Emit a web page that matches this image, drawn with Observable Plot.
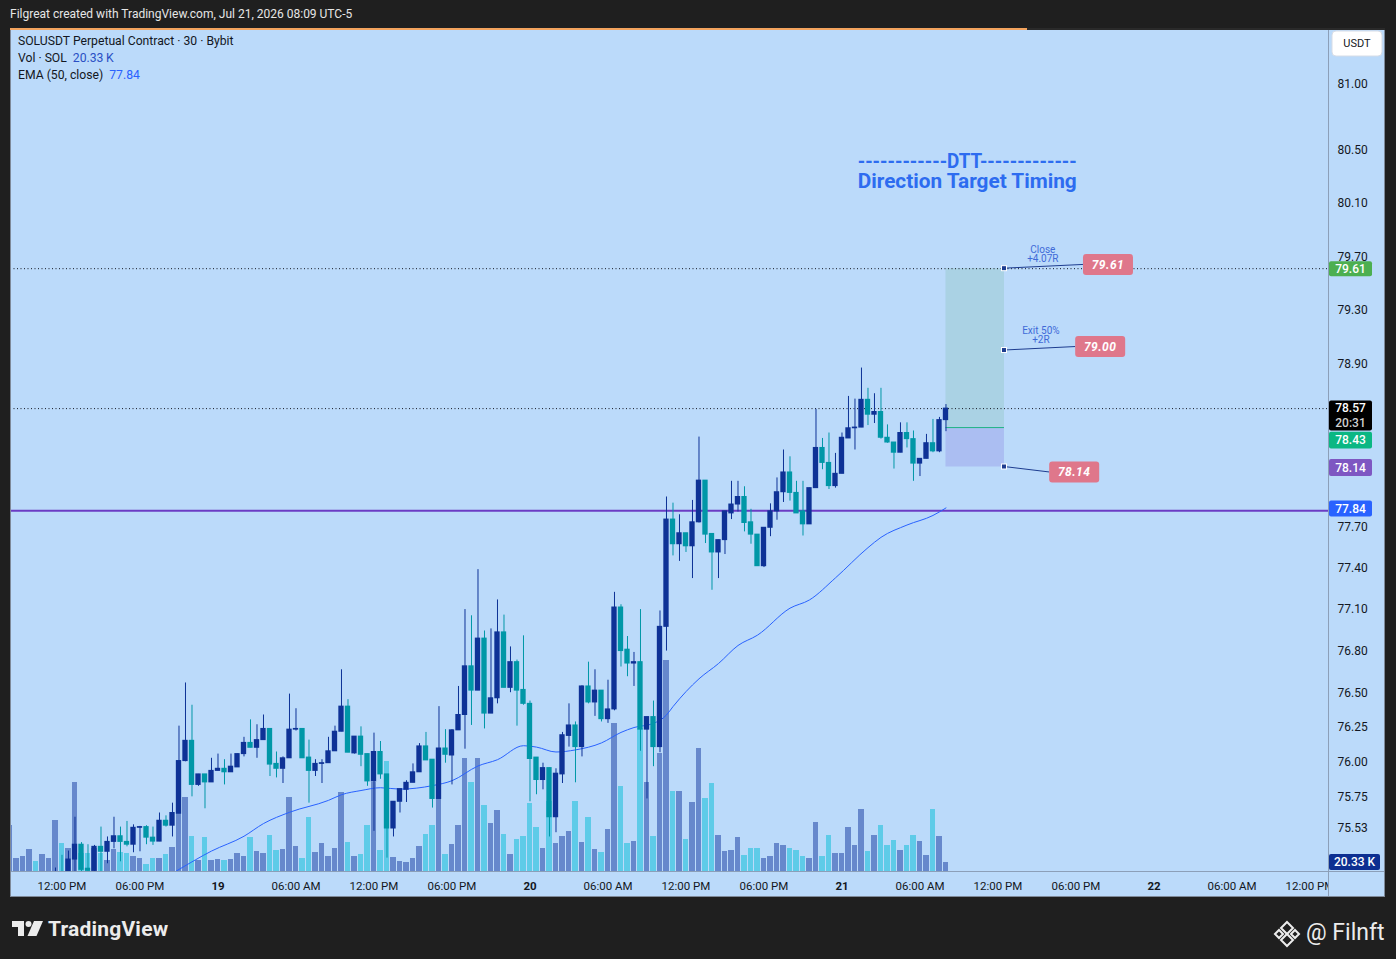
<!DOCTYPE html>
<html>
<head>
<meta charset="utf-8">
<script src="https://cdn.jsdelivr.net/npm/d3@7"></script>
<script src="https://cdn.jsdelivr.net/npm/@observablehq/plot@0.6"></script>
<style>
  html,body{margin:0;padding:0;}
  body{width:1396px;height:959px;background:#1f1f1f;overflow:hidden;position:relative;font-family:Roboto,"Noto Sans",sans-serif;}
  #hdr{position:absolute;left:10px;top:6px;font-size:12px;line-height:16px;color:#e6e6e6;white-space:nowrap;}
  #panel{position:absolute;left:10px;top:29px;width:1375px;height:868px;background:#bbdafa;overflow:hidden;}
  #panel svg{position:absolute;left:0;top:0;}
  #topbar{position:absolute;left:10px;top:28px;width:1017px;height:2px;background:#f2a35e;}
  #topbar2{position:absolute;left:1027px;top:28px;width:358px;height:2px;background:#2a2a2a;}
  #legend{position:absolute;left:18px;top:33px;font-size:12.2px;line-height:16.8px;color:#131722;white-space:nowrap;}
  #legend .v1{color:#2a4fc4;margin-left:6px;}
  #legend .v2{color:#2962ff;margin-left:6px;}
  #tvlogo{position:absolute;left:12px;top:921px;}
  #tvtext{position:absolute;left:48px;top:916px;font-size:21px;line-height:26px;font-weight:bold;color:#ececec;letter-spacing:0.2px;}
  #diamond{position:absolute;left:1273px;top:920px;}
  #filnft{position:absolute;left:1306px;top:919px;font-size:23px;line-height:28px;color:#ececec;}
</style>
</head>
<body>
<div id="hdr">Filgreat created with TradingView.com, Jul 21, 2026 08:09 UTC-5</div>
<div id="panel"></div>
<div id="topbar"></div><div id="topbar2"></div>
<div id="legend">
  <div>SOLUSDT Perpetual Contract · 30 · Bybit</div>
  <div>Vol · SOL<span class="v1">20.33&#8201;K</span></div>
  <div>EMA (50, close)<span class="v2">77.84</span></div>
</div>
<svg id="tvlogo" width="32" height="15" viewBox="0 0 32 15">
  <path d="M0 0H12V15H6V6H0Z" fill="#ececec"/>
  <circle cx="16.5" cy="3" r="3" fill="#ececec"/>
  <path d="M22 0H31L24.5 15H15.5Z" fill="#ececec"/>
</svg>
<div id="tvtext">TradingView</div>
<svg id="diamond" width="28" height="28" viewBox="0 0 28 28">
  <g fill="none" stroke="#ececec" stroke-width="2">
    <path d="M14 2L20 8L14 14L8 8Z"/>
    <path d="M14 14L20 20L14 26L8 20Z"/>
    <path d="M2 14L6 10L10 14L6 18Z"/>
    <path d="M18 14L22 10L26 14L22 18Z"/>
  </g>
</svg>
<div id="filnft">@ Filnft</div>
<script>
// ---------------- DATA (SOLUSDT 30m, bars from 18 Jul 2026 08:00, chart time UTC-5) ----------------
const opens = [75.05,75.10,75.14,75.17,75.19,75.13,75.18,75.19,75.21,75.16,
75.31,75.415,75.245,75.23,75.40,75.365,75.435,75.475,75.435,75.415,
75.535,75.54,75.465,75.437,75.585,75.55,75.635,76.01,76.155,75.84,
75.915,75.858,75.94,75.955,75.93,75.965,76.06,76.14,76.105,76.16,
76.24,75.99,75.955,76.03,76.235,76.24,76.035,75.94,75.99,75.995,
76.08,76.22,76.40,76.065,76.185,76.06,75.865,76.075,75.915,75.53,
75.72,75.805,75.855,75.93,76.115,76.02,75.74,76.10,76.05,76.23,
76.34,76.69,76.515,76.89,76.35,76.46,76.935,76.535,76.72,76.52,
76.42,76.035,75.875,75.96,75.61,75.915,76.19,76.265,76.11,76.545,
76.43,76.515,76.31,76.38,77.115,76.81,76.71,76.72,76.235,76.325,
76.11,76.975,77.755,77.575,77.655,77.56,77.735,78.04,77.65,77.515,
77.605,77.80,77.865,77.92,77.735,77.645,77.415,77.695,77.815,77.955,
78.10,77.95,77.815,77.72,77.985,78.28,78.17,78.00,78.09,78.35,
78.425,78.43,78.635,78.525,78.545,78.355,78.32,78.245,78.39,78.345,
78.165,78.20,78.315,78.255,78.485];
const highs = [75.12,75.16,75.19,75.21,75.20,75.20,75.21,75.25,75.34,75.37,
75.61,75.43,75.415,75.41,75.54,75.47,75.61,75.54,75.58,75.556,
75.545,75.55,75.54,75.64,75.62,75.71,76.26,76.57,76.41,75.915,
75.915,76.03,76.06,76.02,76.06,76.06,76.18,76.305,76.27,76.34,
76.24,76.075,76.04,76.49,76.385,76.24,76.16,76.02,76.02,76.18,
76.26,76.665,76.45,76.185,76.255,76.06,76.21,76.15,75.915,75.72,
75.81,75.87,75.99,76.135,76.215,76.02,76.40,76.235,76.235,76.545,
77.10,77.055,77.39,76.945,76.96,77.17,77.06,76.83,76.735,76.91,
76.44,76.035,75.995,75.96,75.955,76.215,76.42,76.29,76.55,76.72,
76.665,76.515,76.59,77.225,77.135,76.905,76.79,77.10,76.325,76.44,
77.09,77.92,77.875,77.79,77.655,77.895,78.36,78.04,77.65,77.605,
77.815,78.035,78.035,77.995,77.83,77.645,77.695,77.87,78.06,78.265,
78.215,78.035,78.035,77.985,78.565,78.35,78.39,78.24,78.39,78.66,
78.64,78.87,78.72,78.68,78.72,78.45,78.32,78.465,78.465,78.405,
78.20,78.38,78.49,78.505,78.60];
const lows = [75.00,75.05,75.08,75.10,75.11,75.10,75.12,75.14,75.12,75.14,
75.20,75.20,75.20,75.18,75.22,75.28,75.386,75.294,75.40,75.358,
75.365,75.415,75.41,75.437,75.54,75.47,75.635,76.005,75.755,75.83,
75.67,75.858,75.94,75.84,75.93,75.965,76.04,76.105,76.03,76.16,
75.90,75.89,75.85,76.03,76.225,76.03,75.71,75.90,75.85,75.995,
76.08,76.22,76.07,76.06,75.97,75.83,75.51,75.88,75.32,75.47,
75.64,75.715,75.855,75.93,76.015,75.675,75.74,75.995,75.84,76.23,
76.095,76.265,76.515,76.24,76.35,76.42,76.535,76.50,76.26,76.41,
75.72,75.77,75.805,75.47,75.50,75.85,76.11,75.855,76.04,76.42,
76.33,76.29,76.28,76.37,76.685,76.615,76.545,76.08,75.74,75.97,
76.07,76.80,77.49,77.45,77.515,77.325,77.73,77.58,77.24,77.325,
77.50,77.755,77.81,77.665,77.575,77.415,77.405,77.63,77.75,77.88,
77.89,77.80,77.635,77.72,77.985,78.12,77.975,77.985,78.09,78.35,
78.265,78.43,78.445,78.46,78.345,78.315,78.125,78.245,78.28,78.035,
78.07,78.20,78.245,78.245,78.40];
const closes = [75.10,75.14,75.17,75.19,75.13,75.18,75.19,75.21,75.16,75.31,
75.415,75.237,75.23,75.40,75.365,75.435,75.475,75.435,75.415,75.535,
75.54,75.465,75.437,75.585,75.55,75.64,76.01,76.155,75.84,75.915,
75.858,75.94,75.955,75.93,75.97,76.06,76.14,76.105,76.16,76.24,
75.985,75.955,76.03,76.235,76.24,76.03,75.94,75.99,75.995,76.08,
76.22,76.40,76.07,76.185,76.055,75.865,76.075,75.915,75.53,75.72,
75.81,75.855,75.93,76.115,76.015,75.74,76.10,76.055,76.23,76.34,
76.69,76.515,76.89,76.35,76.46,76.935,76.535,76.72,76.515,76.42,
76.025,75.875,75.96,75.61,75.92,76.195,76.265,76.11,76.545,76.43,
76.515,76.31,76.38,77.115,76.80,76.71,76.72,76.235,76.325,76.11,
76.975,77.755,77.575,77.655,77.56,77.735,78.04,77.645,77.515,77.605,
77.815,77.865,77.92,77.73,77.645,77.415,77.695,77.815,77.955,78.10,
77.95,77.80,77.72,77.985,78.28,78.17,78.00,78.09,78.355,78.425,
78.43,78.635,78.525,78.545,78.355,78.32,78.245,78.39,78.345,78.165,
78.20,78.315,78.255,78.485,78.57];
// volume in thousands of SOL
const volumes = [105,29,33,49,22,38,29,115,63,53,
200,41,41,53,41,24,49,43,41,33,
29,15,29,29,38,54,250,167,78,24,
76,24,26,24,26,41,33,76,45,41,
82,47,49,167,56,29,122,43,63,33,
53,179,66,35,38,104,202,47,249,32,
23,21,30,57,84,104,167,38,61,104,
256,202,256,149,109,138,84,38,72,79,
154,100,53,158,64,78,91,159,66,123,
50,44,95,335,191,64,68,322,202,78,
266,477,180,180,73,155,278,165,198,82,
46,48,77,37,52,52,30,33,64,59,
52,48,33,30,110,34,82,40,40,100,
58,141,46,82,104,59,71,48,58,82,
68,37,141,79,20.33];
// EMA(50, close) read at these bar indices
const emaBars = [22,26,31,36,39,43,49,51,54,57,60,65,68,72,75,79,81,84,87,91,94,96,99,101,102,106,109,112,115,120,123,127,132,134,138,142,144];
const emaValues = [75.13,75.24,75.37,75.475,75.565,75.645,75.73,75.77,75.80,75.82,75.81,75.835,75.87,75.975,76.02,76.12,76.11,76.075,76.09,76.14,76.215,76.25,76.28,76.34,76.40,76.60,76.71,76.84,76.915,77.11,77.17,77.33,77.55,77.625,77.715,77.785,77.84];
// price-scale tick labels (78.50 lies fully under the last-price badge in the reference, so it is not listed)
const priceTicks = [75.53,75.75,76.00,76.25,76.50,76.80,77.10,77.40,77.70,78.10,78.90,79.30,79.70,80.10,80.50,81.00];
// long position drawing
const position = {startBar: 144, endBar: 153, entry: 78.43, target: 79.61, stop: 78.14};
const callouts = [
  {price: 79.61, label: "79.61", note: "Close\n+4.07R", noteBar: 158.9, boxBar: 169.0, boxPrice: 79.638},
  {price: 79.00, label: "79.00", note: "Exit 50%\n+2R", noteBar: 158.6, boxBar: 167.8, boxPrice: 79.026},
  {price: 78.14, label: "78.14", note: "", noteBar: 158.6, boxBar: 163.8, boxPrice: 78.10}
];
const titleLines = ["------------DTT-------------", "Direction Target Timing"];
const titleBar = 130.5, titlePrices = [80.361, 80.210];
const lastPrice = 78.57, countdown = "20:31", emaLast = 77.84, hLine = 77.82, lastVolume = "20.33 K";
const alertPrice = 79.61;

// ---------------- BUILD ----------------
const T0 = Date.UTC(2026, 6, 18, 8, 0);
const BAR = 30 * 60 * 1000;
const time = i => new Date(T0 + i * BAR);
const candles = opens.map((o, i) => ({i, t: time(i), o, h: highs[i], l: lows[i], c: closes[i], v: volumes[i], up: closes[i] >= o}));
const ema = emaBars.map((b, k) => ({t: time(b), v: emaValues[k]}));

const UP = "#0e3296", DN = "#0097a7", UPV = "#6688cc", DNV = "#5ecbe8";
const BG = "#bbdafa";
const W = 1375, H = 868, ML = 0, MR = 57, MT = 1, MB = 26;
const xDomain = [time(0.077), time(202.85)];
const yDomain = [75.2254, 81.4121];
const common = {
  width: W, height: H, marginLeft: ML, marginRight: MR, marginTop: MT, marginBottom: MB,
  color: {type: "identity"},
  style: {background: "none", maxWidth: "none", overflow: "visible", fontFamily: "Roboto, sans-serif", color: "#131722"}
};

const vol = Plot.plot({
  ...common,
  x: {type: "utc", domain: xDomain, axis: null},
  y: {domain: [0, 1900], axis: null},
  marks: [
    Plot.rect(candles, {x1: d => time(d.i - 0.41), x2: d => time(d.i + 0.41), y1: 0, y2: "v",
      fill: d => d.up ? UPV : DNV, clip: true, shapeRendering: "crispEdges"})
  ]
});

const sixH = d3.utcHour.every(6).range(xDomain[0], xDomain[1]);
const dayTicks = sixH.filter(d => d.getUTCHours() === 0);
const hourTicks = sixH.filter(d => d.getUTCHours() !== 0);
const posData = [position];

const main = Plot.plot({
  ...common,
  x: {type: "utc", domain: xDomain},
  y: {type: "log", domain: yDomain},
  marks: [
    Plot.rect(posData, {x1: d => time(d.startBar), x2: d => time(d.endBar), y1: "entry", y2: "target", fill: "#aad2e4"}),
    Plot.rect(posData, {x1: d => time(d.startBar), x2: d => time(d.endBar), y1: "stop", y2: "entry", fill: "#abbef2"}),
    Plot.ruleY(posData, {y: "entry", x1: d => time(d.startBar), x2: d => time(d.endBar), stroke: "#1db483", strokeWidth: 1}),
    Plot.ruleY([alertPrice, lastPrice], {stroke: "#131722", strokeDasharray: "1,2.5", strokeWidth: 1}),
    Plot.ruleY([hLine], {stroke: "#6b3cc4", strokeWidth: 2}),
    Plot.line(ema, {x: "t", y: "v", stroke: "#2962ff", strokeWidth: 1, curve: "monotone-x", clip: true}),
    Plot.ruleX(candles, {x: "t", y1: "l", y2: "h", stroke: d => d.up ? UP : DN, strokeWidth: 1, clip: true}),
    Plot.rect(candles, {x1: d => time(d.i - 0.41), x2: d => time(d.i + 0.41), y1: "o", y2: "c",
      fill: d => d.up ? UP : DN, insetTop: -0.5, insetBottom: -0.5, clip: true}),
    Plot.text(callouts.filter(c => c.note), {x: d => time(d.noteBar), y: "price", text: "note", dy: -14.5,
      fontSize: 10, lineHeight: 0.9, fill: "#3f6ad8", textAnchor: "middle"}),
    Plot.axisY({anchor: "right", ticks: priceTicks, tickSize: 0, tickPadding: 9, fontSize: 12,
      tickFormat: d => d.toFixed(2)}),
    Plot.axisX({ticks: hourTicks, tickSize: 0, tickPadding: 10, fontSize: 11.5, tickFormat: d3.utcFormat("%I:%M %p")}),
    Plot.axisX({ticks: dayTicks, tickSize: 0, tickPadding: 10, fontSize: 11.5, fontWeight: "bold", tickFormat: d => String(d.getUTCDate())})
  ]
});

const panel = document.getElementById("panel");
panel.appendChild(vol);
panel.appendChild(main);

// ---------------- overlays positioned through Plot's scales ----------------
const xS = main.scale("x"), yS = main.scale("y"), vS = vol.scale("y");
const X = d => xS.apply(d), Y = p => yS.apply(p);
const g = d3.select(main).append("g").attr("font-family", "Roboto, sans-serif").attr("text-anchor", "start");

// title text
titleLines.forEach((s, k) => {
  g.append("text").attr("x", X(time(titleBar))).attr("y", Y(titlePrices[k])).attr("text-anchor", "start")
    .attr("fill", "#2d6cf0").attr("font-size", 20.5).attr("font-weight", "bold")
    .attr("textLength", 219).attr("lengthAdjust", "spacingAndGlyphs").text(s);
});

// callout connectors, boxes and anchor markers
callouts.forEach(c => {
  const ax = X(time(position.endBar)), ay = Y(c.price);
  const bx = X(time(c.boxBar)), by = Y(c.boxPrice);
  g.append("line").attr("x1", ax).attr("y1", ay).attr("x2", bx - 25).attr("y2", by).attr("stroke", "#1d3c8f").attr("stroke-width", 1);
  g.append("rect").attr("x", bx - 25).attr("y", by - 10.5).attr("width", 50).attr("height", 21).attr("rx", 3).attr("fill", "#df778b");
  g.append("text").attr("x", bx).attr("y", by).attr("dy", "0.36em").attr("text-anchor", "middle").attr("fill", "#fff")
    .attr("font-size", 12).attr("font-weight", "bold").attr("font-style", "italic").attr("letter-spacing", 0.5).text(c.label);
  g.append("rect").attr("x", ax - 2.5).attr("y", ay - 2.5).attr("width", 5).attr("height", 5).attr("fill", "#1d3c8f").attr("stroke", "#fff").attr("stroke-width", 1);
});

// cover time axis overflow into the price scale, separators, borders
const R = W - MR;
g.append("rect").attr("x", R).attr("y", H - MB).attr("width", MR).attr("height", MB).attr("fill", BG);
g.append("line").attr("x1", R + 0.5).attr("x2", R + 0.5).attr("y1", 0).attr("y2", H).attr("stroke", "#8c9fb8");
g.append("line").attr("x1", 0).attr("x2", W).attr("y1", H - MB + 0.5).attr("y2", H - MB + 0.5).attr("stroke", "#8c9fb8");
g.append("rect").attr("x", 0.5).attr("y", 0.5).attr("width", W - 1).attr("height", H - 1).attr("fill", "none").attr("stroke", "#7f8a99");

// price-scale badges
function badge(top, h, w, fill, lines) {
  g.append("rect").attr("x", R + 1).attr("y", top).attr("width", w).attr("height", h).attr("rx", 2).attr("fill", fill);
  lines.forEach(([txt, col], k) => {
    g.append("text").attr("x", R + 1 + w / 2).attr("y", top + (h / lines.length) * (k + 0.5)).attr("dy", "0.36em")
      .attr("text-anchor", "middle").attr("fill", col).attr("font-size", 12).attr("font-weight", 500).text(txt);
  });
}
g.append("rect").attr("x", R + 4).attr("y", 2).attr("width", 50).attr("height", 25).attr("rx", 4).attr("fill", "#ffffff").attr("stroke", "#d6dce6");
g.append("text").attr("x", R + 29).attr("y", 14.5).attr("dy", "0.36em").attr("text-anchor", "middle").attr("font-size", 11).attr("fill", "#131722").text("USDT");

badge(Y(alertPrice) - 7, 15, 43, "#4caf50", [[alertPrice.toFixed(2), "#fff"]]);
const blackTop = Y(lastPrice) - 7.5;
badge(blackTop, 30, 43, "#000000", [[lastPrice.toFixed(2), "#fff"], [countdown, "#d0d0d0"]]);
const entryC = Math.max(Y(position.entry), blackTop + 30 + 9.5);
badge(entryC - 8.3, 16.6, 43, "#0bb783", [[position.entry.toFixed(2), "#fff"]]);
badge(Y(position.stop) - 7.5, 17, 43, "#7e57c2", [[position.stop.toFixed(2), "#fff"]]);
badge(Y(emaLast) - 7, 16, 43, "#2962ff", [[emaLast.toFixed(2), "#fff"]]);
badge(vS.apply(20.33) - 8, 16, 51, "#0d2f91", [[lastVolume, "#fff"]]);
</script>
</body>
</html>
